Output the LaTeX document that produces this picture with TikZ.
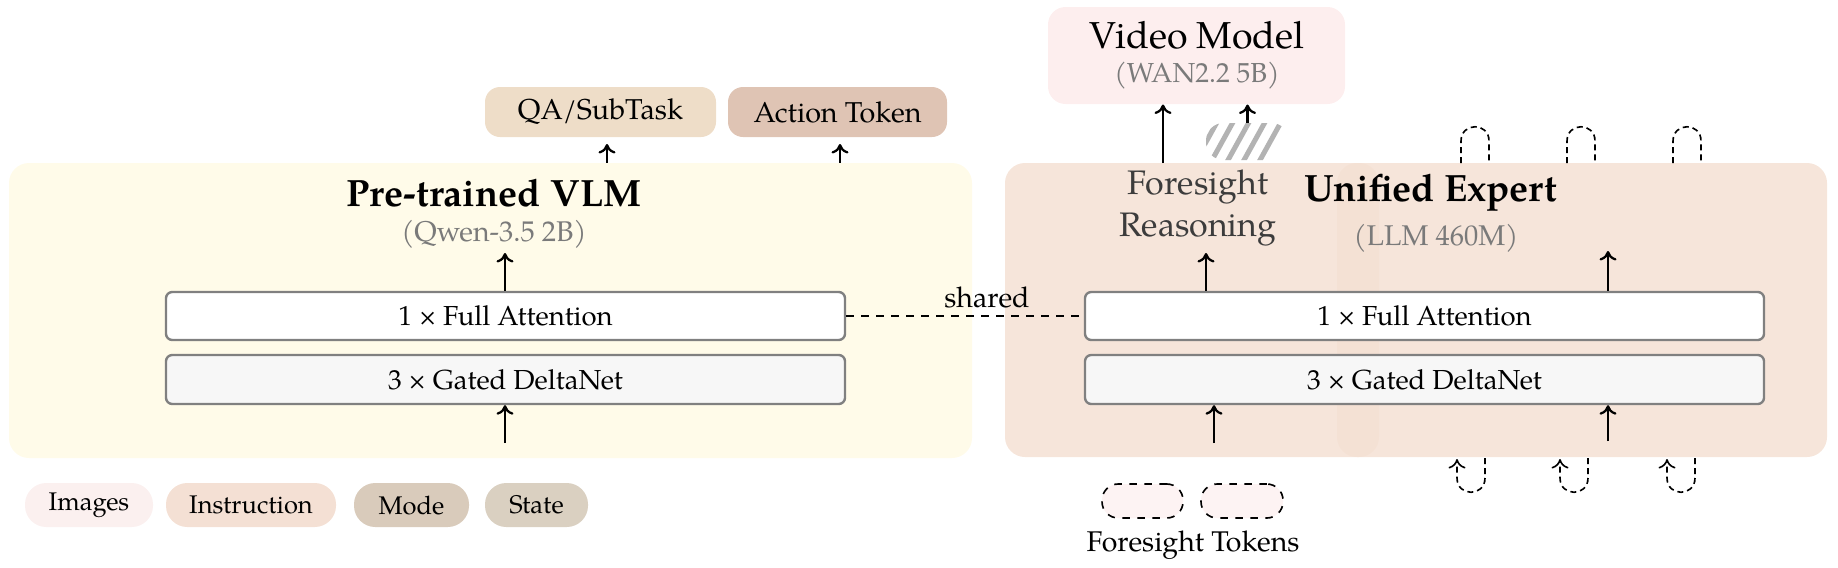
\documentclass[tikz,border=0pt]{standalone}
\usepackage{fontspec}
\setmainfont{texgyrepagella}[Extension=.otf,UprightFont=*-regular,BoldFont=*-bold,ItalicFont=*-italic,BoldItalicFont=*-bolditalic]
\usetikzlibrary{fit,arrows.meta}
\definecolor{vlmfill}{HTML}{FFFBE9}
\definecolor{uefill}{HTML}{F4E0D3}
\definecolor{vmfill}{HTML}{FDEEEE}
\definecolor{qafill}{HTML}{EEDDC8}
\definecolor{actfill}{HTML}{DFC4B4}
\definecolor{imgfill}{HTML}{FBF0EF}
\definecolor{insfill}{HTML}{F4E0D4}
\definecolor{modefill}{HTML}{D9CBBB}
\definecolor{statefill}{HTML}{DAD0C1}
\definecolor{tokfill}{HTML}{FDF3F3}
\definecolor{layerline}{HTML}{808080}
\definecolor{dnfill}{HTML}{F7F7F7}
\definecolor{subgray}{HTML}{7A7A7A}
\definecolor{fsgray}{HTML}{3C3C3C}
\definecolor{hatchgray}{HTML}{B3B3B3}
\begin{document}
\begin{tikzpicture}[x=0.4pt,y=-0.4pt,
  panel/.style={draw=none,rounded corners=8pt,inner sep=0pt},
  layer/.style={draw=layerline,line width=0.95pt,rounded corners=2.5pt,inner sep=0pt},
  pill/.style={draw=none,rounded corners=8.5pt,inner sep=0pt},
  outbox/.style={draw=none,rounded corners=6pt,inner sep=0pt},
  txt/.style={inner sep=0pt,font=\fontsize{11}{13}\selectfont},
  pilltxt/.style={inner sep=0pt,font=\fontsize{10.2}{12}\selectfont},
  outtxt/.style={inner sep=0pt,font=\fontsize{11.5}{13}\selectfont},
  tokbox/.style={draw=black,dashed,line width=0.65pt,fill=tokfill,rounded corners=6.5pt,inner sep=0pt},
  title/.style={font=\fontsize{15.2}{18}\selectfont\bfseries,inner sep=0pt},
  subtitle/.style={font=\fontsize{11.4}{13}\selectfont,text=subgray,inner sep=0pt},
  tip/.style={-{To[length=3.8pt,width=6.8pt]}},
  arr/.style={tip,line width=0.9pt},
  loopline/.style={dashed,dash pattern=on 2.4pt off 1.6pt,line width=0.65pt}
]
\useasboundingbox (0,0) rectangle (1838,567);

% ---- Pre-trained VLM ----
\node[panel,fill=vlmfill,fit={(9,163)(972,458)}] (vlm) {};
\node[title] (vlmt) at (494,193) {Pre-trained VLM};
\node[subtitle] (vlms) at (494,234) {(Qwen-3.5 2B)};
\node[layer,fill=white,fit={(166,292)(845,340)}] (fa1) {};
\node[txt] (fa1t) at (fa1) {1 × Full Attention};
\node[layer,fill=dnfill,fit={(166,355)(845,404)}] (dn1) {};
\node[txt] (dn1t) at (dn1) {3 × Gated DeltaNet};
\coordinate (a1top) at (505,253);
\coordinate (a1bot) at (505,443);
\draw[arr] (a1top |- fa1.north) -- (a1top);
\draw[arr] (a1bot) -- (a1bot |- dn1.south);

% ---- outputs ----
\node[outbox,fill=qafill,fit={(485,87)(716,137)}] (qa) {};
\node[outtxt] (qat) at (qa) {QA/SubTask};
\node[outbox,fill=actfill,fit={(728,87)(947,137)}] (act) {};
\node[outtxt] (actt) at (act) {Action Token};
\coordinate (qaarr) at (607,144);
\coordinate (actarr) at (840,144);
\draw[arr] (qaarr |- vlm.north) -- (qaarr);
\draw[arr] (actarr |- vlm.north) -- (actarr);

% ---- Unified Expert ----
\node[panel,fill=uefill,opacity=0.85,fit={(1005,163)(1379,457)}] (uea) {};
\node[panel,fill=uefill,opacity=0.85,fit={(1337,163)(1827,457)}] (ueb) {};
\node[title] (uet) at (1431,193) {Unified Expert};
\node[subtitle] (ues) at (1436,238) {(LLM 460M)};
\node[align=center,text=fsgray,font=\fontsize{13.6}{16.5}\selectfont,inner sep=0pt] (fr) at (1198,208) {Foresight\\Reasoning};
\node[layer,fill=white,fit={(1085,292)(1764,340)}] (fa2) {};
\node[txt] (fa2t) at (fa2) {1 × Full Attention};
\node[layer,fill=dnfill,fit={(1085,355)(1764,404)}] (dn2) {};
\node[txt] (dn2t) at (dn2) {3 × Gated DeltaNet};
\coordinate (b1top) at (1206,253);
\coordinate (b2top) at (1608,251);
\coordinate (b1bot) at (1214,443);
\coordinate (b2bot) at (1608,441);
\draw[arr] (b1top |- fa2.north) -- (b1top);
\draw[arr] (b2top |- fa2.north) -- (b2top);
\draw[arr] (b1bot) -- (b1bot |- dn2.south);
\draw[arr] (b2bot) -- (b2bot |- dn2.south);

% shared
\draw[dashed,line width=0.65pt] (fa1.east) -- (fa2.west);
\node[font=\fontsize{11.4}{13}\selectfont,inner sep=0pt] (shared) at (987,297) {shared};

% ---- Video model ----
\node[panel,fill=vmfill,rounded corners=7pt,fit={(1048,7)(1345,104)}] (vm) {};
\node[font=\fontsize{15}{18}\selectfont,inner sep=0pt] (vmt) at (1197,35) {Video Model};
\node[subtitle,font=\fontsize{11}{13}\selectfont] (vms) at (1197,76) {(WAN2.2 5B)};
\coordinate (vmarr) at (1163,163);
\draw[arr] (vmarr) -- (vmarr |- vm.south);
\node[draw=none,fill=white,rounded corners=7pt,inner sep=0pt,fit={(1206,123)(1289,160)},
  path picture={
    \foreach \sx in {-77,-61,...,53}{
      \draw[hatchgray,line width=2pt] (\sx,24) -- (\sx+26,-23);
    }
  }] (hatch) {};
\draw[arr] (hatch.north) -- (hatch.north |- vm.south);

% ---- recurrent loops ----
\foreach \cx/\dx in {1475/1471,1581/1574,1687/1681}{
  \draw[loopline] (\cx-14,163) -- (\cx-14,141) .. controls (\cx-14,122) and (\cx+14,122) .. (\cx+14,141) -- (\cx+14,163);
  \draw[loopline,tip] (\dx+14,458) -- (\dx+14,478) .. controls (\dx+14,497) and (\dx-14,497) .. (\dx-14,478) -- (\dx-14,459);
}

% ---- foresight tokens ----
\node[tokbox,fit={(1102,484)(1183,518)}] (tok1) {};
\node[tokbox,fit={(1201,484)(1283,518)}] (tok2) {};
\node[font=\fontsize{11.4}{13}\selectfont,inner sep=0pt] (toklbl) at (1193,545) {Foresight Tokens};

% ---- inputs ----
\node[pill,fill=imgfill,fit={(25,483)(153,527)}] (img) {};
\node[pilltxt] (imgt) at (img) {Images};
\node[pill,fill=insfill,fit={(166,483)(336,527)}] (ins) {};
\node[pilltxt] (inst) at (ins) {Instruction};
\node[pill,fill=modefill,fit={(354,483)(469,527)}] (mode) {};
\node[pilltxt] (modet) at (mode) {Mode};
\node[pill,fill=statefill,fit={(485,483)(588,527)}] (state) {};
\node[pilltxt] (statet) at (state) {State};
\end{tikzpicture}
\end{document}
